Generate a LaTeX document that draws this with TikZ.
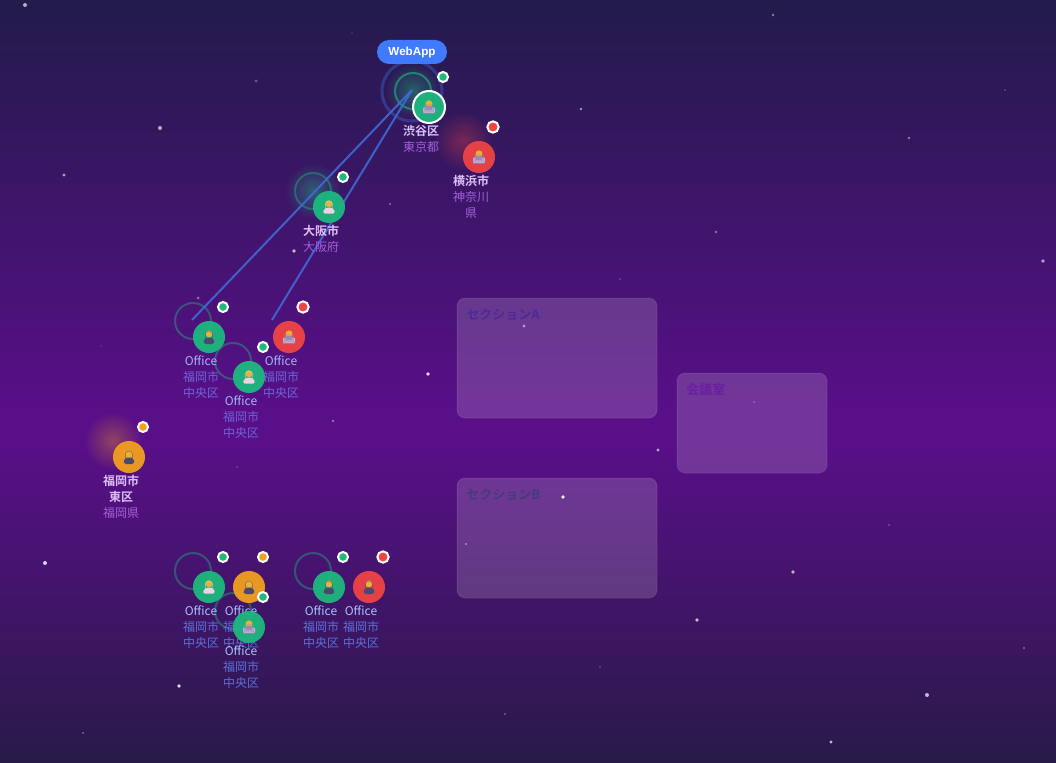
\documentclass[tikz,border=0pt]{standalone}
\usepackage{fontspec}
\setmainfont{Liberation Sans}
\newfontfamily\cjk{Noto Sans CJK JP}[BoldFont={Noto Sans CJK JP Bold}]
\newfontfamily\emo{Noto Emoji}
\usetikzlibrary{fadings,shapes.geometric}
\definecolor{bgtop}{HTML}{221B4B}
\definecolor{bgmid}{HTML}{590F88}
\definecolor{bgbot}{HTML}{281A48}
\definecolor{okc}{HTML}{1DB97F}
\definecolor{badc}{HTML}{EF4444}
\definecolor{warnc}{HTML}{F3A01F}
\definecolor{linkc}{HTML}{4069D6}
\definecolor{headc}{HTML}{E8B23A}
\definecolor{suitc}{HTML}{4A4A6E}
\definecolor{coatc}{HTML}{EBD3E2}
\definecolor{lapc}{HTML}{C0AEDC}
\pgfdeclareverticalshading{bgshade}{100bp}{color(0bp)=(bgbot); color(25bp)=(bgbot); color(46bp)=(bgmid); color(48bp)=(bgmid); color(75bp)=(bgtop); color(100bp)=(bgtop)}
\tikzfading[name=glowfade, inner color=transparent!55, outer color=transparent!100]
\tikzset{
  zonebox/.style={rounded corners=8*0.75pt,fill=white,fill opacity=0.16,draw=white,draw opacity=0.08,line width=0.75pt,inner sep=0pt},
  zonelabel/.style={anchor=west,inner sep=0pt,font=\cjk\bfseries\fontsize{9.75pt}{12pt}\selectfont},
  seat/.style={circle,minimum size=24pt,inner sep=0pt,fill opacity=0.94},
  pip/.style={circle,minimum size=7.5pt,inner sep=0pt,draw=white,line width=1.5pt},
  bigpip/.style={pip,minimum size=8.5pt},
  ringg/.style={circle,draw=okc,draw opacity=0.4,line width=1.5pt,minimum size=27pt,inner sep=0pt},
  caption/.style={align=center,font=\cjk\fontsize{9pt}{12pt}\selectfont,anchor=north},
  link/.style={draw=linkc,line width=1.5pt,draw opacity=0.9},
  emoji/.style={inner sep=0pt,font=\emo\fontsize{#1}{#1}\selectfont},
  warmglow/.style={fill opacity=.8},
}
% \who{x}{y}{colour}{name}{kind}: 0 suit, 1 light coat, 2 laptop
\newcommand{\who}[5]{%
  \node[seat,fill=#3] (#4) at (#1,#2) {};
  \fill[headc] (#1,#2-3.2) circle[radius=2.6pt];
  \ifnum#5=0
    \fill[suitc,rounded corners=1.2pt] (#1-5,#2+7) -- (#1-5,#2+2) -- (#1-2,#2+0.5) -- (#1+2,#2+0.5) -- (#1+5,#2+2) -- (#1+5,#2+7) -- cycle;
    \node[emoji=9pt,text=suitc] at (#1,#2) {\char"1F464};
  \fi
  \ifnum#5=1
    \fill[coatc,rounded corners=1.2pt] (#1-6,#2+6.5) -- (#1-5,#2+2) -- (#1-2,#2+0.5) -- (#1+2,#2+0.5) -- (#1+5,#2+2) -- (#1+6,#2+6.5) -- cycle;
    \node[emoji=9pt,text=coatc] at (#1,#2) {\char"1F464};
  \fi
  \ifnum#5=2
    \fill[lapc,rounded corners=0.6pt] (#1-6,#2+0.5) rectangle (#1+6,#2+6);
    \node[emoji=8pt,text=lapc!80!black] at (#1,#2+3.2) {\char"1F4BB};
  \fi}
\begin{document}
\begin{tikzpicture}[x=0.75pt,y=-0.75pt]
\useasboundingbox (0,0) rectangle (1056,763);
\fill[shading=bgshade,shading angle=0] (0,0) rectangle (1056,763);
% stars
\foreach \x/\y/\r/\o in {25/5/2/.65,352/33/.7/.3,256/81/1.5/.3,160/128/2/.65,64/175/1.6/.6,390/204/1.3/.3,294/251/1.8/.7,198/298/1.5/.4,101/346/.7/.3,428/374/1.8/.85,333/421/1.3/.4,237/467/.8/.3,45/563/2/.8,179/686/1.8/.85,83/733/1.2/.35,505/714/1.2/.3,600/667/.8/.3,697/620/1.8/.7,793/572/1.8/.65,889/525/1/.3,658/450/1.6/.6,754/402/1/.3,524/326/1.6/.5,620/279/.8/.3,716/232/1.4/.4,909/138/1.4/.45,1005/90/.8/.3,773/15/1.4/.45,581/109/1.4/.55,1043/261/1.8/.6,1024/648/1.3/.3,927/695/2/.7,831/742/1.6/.7,563/497/1.8/.9,466/544/1.2/.45}{
  \fill[white,opacity=\o] (\x,\y) circle[radius=\r*0.75pt];
}
% zones
\node[zonebox,minimum width=150pt,minimum height=90pt] (zoneA) at (557,358) {};
\node[zonebox,minimum width=112.5pt,minimum height=75pt] (zoneC) at (752,423) {};
\node[zonebox,minimum width=150pt,minimum height=90pt] (zoneB) at (557,538) {};
\node[zonelabel,text={rgb,255:red,76;green,42;blue,154}] (zoneAt) at (466,315) {セクションA};
\node[zonelabel,text={rgb,255:red,106;green,31;blue,160}] (zoneCt) at (686,390) {会議室};
\node[zonelabel,text={rgb,255:red,70;green,58;blue,125}] (zoneBt) at (466,495) {セクションB};
% glows
\fill[okc,path fading=glowfade] (413,91) circle[radius=21pt];
\fill[okc,path fading=glowfade] (313,191) circle[radius=21pt];
\fill[badc,warmglow,path fading=glowfade] (463,141) circle[radius=22pt];
\fill[warnc,warmglow,path fading=glowfade] (113,441) circle[radius=22pt];
% rings
\node[ringg,minimum size=45pt,draw=linkc,draw opacity=.4,line width=2.25pt] (hubouter) at (412,91) {};
\node[ringg,draw opacity=.6] (hub) at (413,91) {};
\foreach \n/\x/\y in {r1/313/191,r2/193/321,r3/233/361,r4/193/571,r5/233/611,r6/313/571}{
  \node[ringg] (\n) at (\x,\y) {};
}
% connectors
\coordinate (hubc) at (412,90);
\coordinate (endA) at (192,320);
\coordinate (endB) at (272,320);
\draw[link] (hubc) -- (endA);
\draw[link] (hubc) -- (endB);
% people
\who{429}{107}{okc}{shibuya}{2}
\draw[white,line width=1.5pt] (shibuya) circle[radius=16];
\who{479}{157}{badc}{yokohama}{2}
\who{329}{207}{okc}{osaka}{1}
\who{209}{337}{okc}{offA}{0}
\who{249}{377}{okc}{offB}{1}
\who{289}{337}{badc}{offC}{2}
\who{129}{457}{warnc}{fuku}{0}
\who{209}{587}{okc}{offD}{1}
\who{249}{587}{warnc}{offE}{0}
\who{329}{587}{okc}{offG}{0}
\who{369}{587}{badc}{offH}{0}
% pips
\foreach \n/\x/\y/\c in {p1/443/77/okc,p3/343/177/okc,p4/223/307/okc,p5/263/347/okc,p7/143/427/warnc,p8/223/557/okc,p9/263/557/warnc,p11/343/557/okc}{
  \node[pip,fill=\c] (\n) at (\x,\y) {};
}
\foreach \n/\x/\y in {p2/493/127,p6/303/307,p12/383/557}{
  \node[bigpip,fill=badc] (\n) at (\x,\y) {};
}
% captions
\definecolor{cname}{HTML}{DDBFF8}
\definecolor{cregion}{HTML}{A45FDB}
\definecolor{oname}{HTML}{A3B6F8}
\definecolor{ocity}{HTML}{6F63D9}
\definecolor{onameb}{HTML}{A8C0FF}
\definecolor{ocityb}{HTML}{5A6FD8}
\node[caption] (c1) at (421,121) {\textcolor{cname}{\bfseries 渋谷区}\\\textcolor{cregion}{東京都}};
\node[caption] (c2) at (471,171) {\textcolor{cname}{\bfseries 横浜市}\\\textcolor{cregion}{神奈川}\\\textcolor{cregion}{県}};
\node[caption] (c3) at (321,221) {\textcolor{cname}{\bfseries 大阪市}\\\textcolor{cregion}{大阪府}};
\node[caption] (c4) at (121,471) {\textcolor{cname}{\bfseries 福岡市}\\\textcolor{cname}{\bfseries 東区}\\\textcolor{cregion}{福岡県}};
\foreach \n/\x/\y in {o1/201/351,o2/241/391,o3/281/351}{
  \node[caption] (\n) at (\x,\y) {\textcolor{oname}{Office}\\\textcolor{ocity}{福岡市}\\\textcolor{ocity}{中央区}};
}
\foreach \n/\x/\y in {o4/201/601,o5/241/601,o7/321/601,o8/361/601}{
  \node[caption] (\n) at (\x,\y) {\textcolor{onameb}{Office}\\\textcolor{ocityb}{福岡市}\\\textcolor{ocityb}{中央区}};
}
% overlapping seat, drawn above the caption behind it
\who{249}{627}{okc}{offF}{2}
\node[pip,fill=okc] (p10) at (263,597) {};
\node[caption] (o6) at (241,641) {\textcolor{onameb}{Office}\\\textcolor{ocityb}{福岡市}\\\textcolor{ocityb}{中央区}};
% badge
\node[rounded corners=9pt,fill={rgb,255:red,64;green,122;blue,255},text=white,font=\bfseries\fontsize{8.75pt}{11pt}\selectfont,minimum width=52.5pt,minimum height=18pt,inner sep=0pt] (web) at (412,52) {\raisebox{-0.6pt}{WebApp}};
\end{tikzpicture}
\end{document}
